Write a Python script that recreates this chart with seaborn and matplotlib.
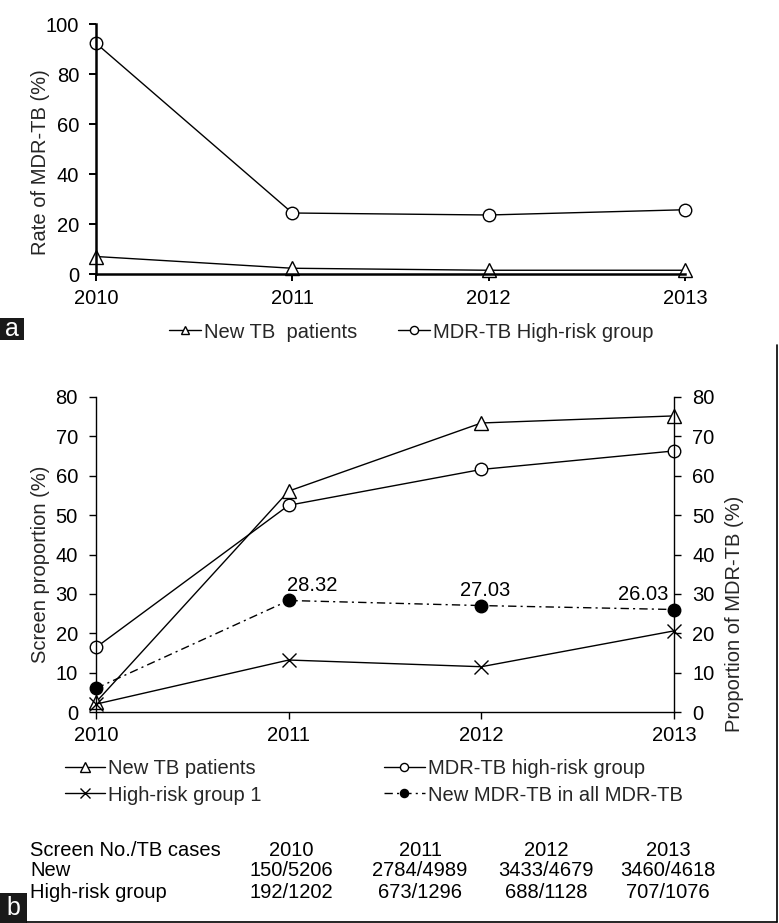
import matplotlib
matplotlib.use("Agg")
import matplotlib.pyplot as plt
import seaborn as sns
from matplotlib.lines import Line2D
from matplotlib.patches import Rectangle

years = [2010, 2011, 2012, 2013]

# panel a: rate of MDR-TB (%)
rate_new_tb = [7.0, 2.3, 1.5, 1.5]
rate_high_risk = [92.3, 24.4, 23.6, 25.7]

# panel b: screen proportion (%) on the left axis
screen_new_tb = [2.5, 56.1, 73.4, 75.2]
screen_mdr_high_risk = [16.4, 52.5, 61.6, 66.3]
screen_high_risk_1 = [2.0, 13.2, 11.5, 20.6]
# panel b: proportion of new MDR-TB in all MDR-TB (%) on the right axis
new_mdr_share = [6.0, 28.32, 27.03, 26.03]
new_mdr_labels = ["", "28.32", "27.03", "26.03"]

table_header = ["Screen No./TB cases", "2010", "2011", "2012", "2013"]
table_new = ["New", "150/5206", "2784/4989", "3433/4679", "3460/4618"]
table_high_risk = ["High-risk group", "192/1202", "673/1296", "688/1128", "707/1076"]

sns.set_theme(style="ticks")
plt.rcParams["font.family"] = ["Liberation Sans", "DejaVu Sans"]
FS = 14.5

W, H = 779, 923
fig = plt.figure(figsize=(W / 100, H / 100), dpi=100)


def px_box(l, t, r, b):
    return [l / W, 1 - b / H, (r - l) / W, (b - t) / H]


line_kws = dict(color="black", linewidth=1.0, markeredgecolor="black",
                markeredgewidth=1.0, clip_on=False, legend=False)

# ---------------- panel a ----------------
ax_a = fig.add_axes(px_box(96, 24, 685, 274))
sns.lineplot(x=years, y=rate_new_tb, ax=ax_a, marker="^", markersize=9.5,
             markerfacecolor="white", label="New TB  patients", **line_kws)
sns.lineplot(x=years, y=rate_high_risk, ax=ax_a, marker="o", markersize=9,
             markerfacecolor="white", label="MDR-TB High-risk group", **line_kws)
ax_a.set_xlim(2010, 2013)
ax_a.set_ylim(0, 100)
ax_a.set_xticks(years)
ax_a.set_yticks(range(0, 101, 20))
ax_a.set_xlabel("")
ax_a.set_ylabel("Rate of MDR-TB (%)", fontsize=FS)
ax_a.yaxis.set_label_coords((50 - 96) / 589, (274 - 162) / 250)
for side in ["top", "right"]:
    ax_a.spines[side].set_visible(False)
for side in ["left", "bottom"]:
    ax_a.spines[side].set_linewidth(1.8)
    ax_a.spines[side].set_color("black")
ax_a.tick_params(axis="both", direction="out", length=5, width=1.4,
                 labelsize=FS, colors="black")
ax_a.tick_params(axis="y", pad=7)
ax_a.tick_params(axis="x", pad=6)

h_a, l_a = ax_a.get_legend_handles_labels()
fig.legend(h_a, l_a, loc="center", bbox_to_anchor=(411 / W, 1 - 332 / H),
           ncol=2, frameon=False, handlelength=1.6, handletextpad=0.15,
           columnspacing=2.0, borderpad=0, markerscale=0.65, fontsize=FS)

# ---------------- panel b ----------------
ax_b = fig.add_axes(px_box(96, 397, 674, 712))
sns.lineplot(x=years, y=screen_new_tb, ax=ax_b, marker="^", markersize=10,
             markerfacecolor="white", label="New TB patients", **line_kws)
sns.lineplot(x=years, y=screen_mdr_high_risk, ax=ax_b, marker="o", markersize=9,
             markerfacecolor="white", label="MDR-TB high-risk group", **line_kws)
sns.lineplot(x=years, y=screen_high_risk_1, ax=ax_b, marker="x", markersize=10,
             label="High-risk group 1", **line_kws)
ax_b.set_xlim(2010, 2013)
ax_b.set_ylim(0, 80)
ax_b.set_xticks(years)
ax_b.set_yticks(range(0, 81, 10))
ax_b.set_xlabel("")
ax_b.set_ylabel("Screen proportion (%)", fontsize=FS)
ax_b.yaxis.set_label_coords((50 - 96) / 578, (712 - 564) / 315)
for side in ["top", "right"]:
    ax_b.spines[side].set_visible(False)
for side in ["left", "bottom"]:
    ax_b.spines[side].set_linewidth(1.0)
    ax_b.spines[side].set_color("black")
ax_b.tick_params(axis="both", direction="out", length=5, width=1.0,
                 labelsize=FS, colors="black")
ax_b.tick_params(axis="y", pad=8)
ax_b.tick_params(axis="x", pad=5)

ax_r = ax_b.twinx()
sns.lineplot(x=years, y=new_mdr_share, ax=ax_r, marker="o", markersize=9,
             markerfacecolor="black", linestyle=(0, (6, 3, 1.5, 3)),
             label="New MDR-TB in all MDR-TB", **line_kws)
ax_r.set_ylim(0, 80)
ax_r.set_yticks(range(0, 81, 10))
ax_r.set_ylabel("Proportion of MDR-TB (%)", fontsize=FS, rotation=90)
ax_r.yaxis.set_label_coords((725 - 96) / 578, (712 - 614) / 315)
ax_r.yaxis.label.set_va("top")
for side in ["top", "left", "bottom"]:
    ax_r.spines[side].set_visible(False)
ax_r.spines["right"].set_linewidth(1.0)
ax_r.spines["right"].set_color("black")
ax_r.tick_params(axis="y", direction="out", length=5, width=1.0,
                 labelsize=FS, colors="black", pad=8)
ax_r.grid(False)

label_align = [("center", 0), ("left", -1.5), ("center", 3), ("right", -4)]
for yr, val, lab, (ha, dx) in zip(years, new_mdr_share, new_mdr_labels, label_align):
    if lab:
        ax_r.annotate(lab, (yr, val), xytext=(dx, 4), textcoords="offset points",
                      ha=ha, va="bottom", fontsize=FS, color="black")

h_b, l_b = ax_b.get_legend_handles_labels()
h_r, l_r = ax_r.get_legend_handles_labels()
order_h = [h_b[0], h_b[2], h_b[1], h_r[0]]
order_l = [l_b[0], l_b[2], l_b[1], l_r[0]]
fig.legend(order_h, order_l, loc="center", bbox_to_anchor=(373.5 / W, 1 - 782 / H),
           ncol=2, frameon=False, handlelength=2.0, handletextpad=0.15,
           columnspacing=6.1, labelspacing=0.35, borderpad=0, markerscale=0.65,
           fontsize=FS)

# ---------------- counts table ----------------
col_x = [30, 291, 420, 546, 668]
for row, y in zip([table_header, table_new, table_high_risk], [850, 871, 893]):
    for j, (txt, x) in enumerate(zip(row, col_x)):
        fig.text(x / W, 1 - y / H, txt, fontsize=FS, color="black",
                 ha="left" if j == 0 else "center", va="center")

# ---------------- panel tags and frame ----------------
for tag, (l, t, r, b) in [("a", (0, 318, 24, 340)), ("b", (0, 893, 27, 923))]:
    fig.add_artist(Rectangle((l / W, 1 - b / H), (r - l) / W, (b - t) / H,
                             transform=fig.transFigure, facecolor="#1a1a1a",
                             edgecolor="none"))
    fig.text((l + r) / 2 / W, 1 - (t + b) / 2 / H, tag, color="white",
             fontsize=18, ha="center", va="center")

fig.add_artist(Line2D([777 / W, 777 / W], [1 - 345 / H, 1 - 922 / H],
                      transform=fig.transFigure, color="black", linewidth=1.2))
fig.add_artist(Line2D([27 / W, 777 / W], [1 - 922 / H, 1 - 922 / H],
                      transform=fig.transFigure, color="black", linewidth=1.2))

fig.savefig("out.png", dpi=100)
